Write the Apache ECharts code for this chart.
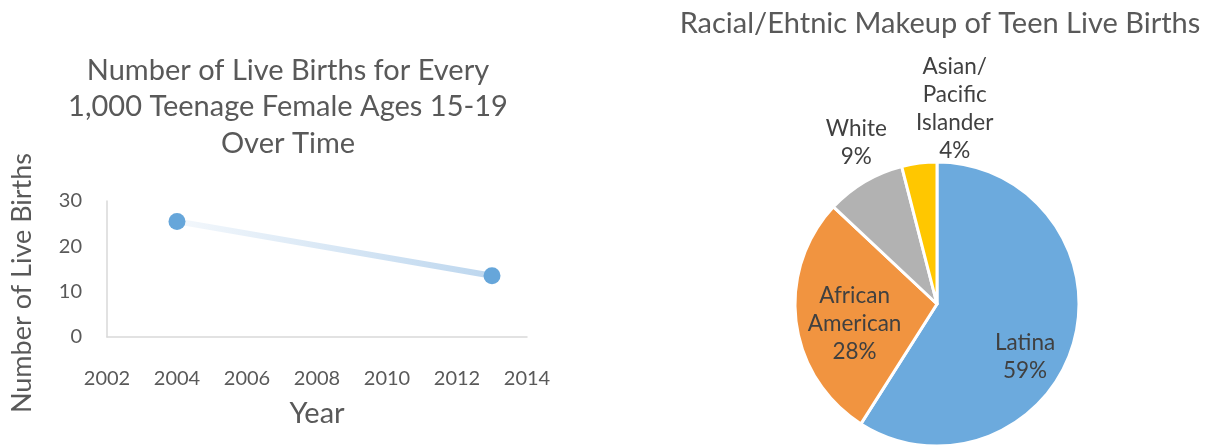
<!DOCTYPE html>
<html>
<head>
<meta charset="utf-8">
<script src="https://cdn.jsdelivr.net/npm/echarts@6/dist/echarts.min.js"></script>
<style>
  html, body { margin: 0; padding: 0; background: #fff; }
  #chart { width: 1206px; height: 445px; }
</style>
</head>
<body>
<div id="chart"></div>
<script>
// Teen birth rate per 1,000 females aged 15-19
const years = [2004, 2013];
const birthRates = [25.5, 13.5];

// Racial/ethnic makeup of teen live births (percent)
const groups = ['Latina', 'African\nAmerican', 'White', 'Asian/\nPacific\nIslander'];
const shares = [59, 28, 9, 4];

const FONT = 'Lato, "Open Sans", sans-serif';
const TEXT = '#595959';
const sliceColors = ['#6CAADD', '#F19440', '#B2B2B2', '#FFC700'];
// label nudges (px) for each slice, in group order
const labelNudge = [[17, 32], [-9, 10], [-43, -98], [27, -122]];

const chart = echarts.init(document.getElementById('chart'), null, { renderer: 'canvas' });

chart.setOption({
  backgroundColor: '#ffffff',
  animation: false,
  title: [
    {
      text: 'Number of Live Births for Every\n1,000 Teenage Female Ages 15-19\nOver Time',
      left: 283, top: 47, textAlign: 'center',
      textStyle: { fontFamily: FONT, fontSize: 29, fontWeight: 'normal', color: TEXT, lineHeight: 36.5 }
    },
    {
      text: 'Racial/Ehtnic Makeup of Teen Live Births',
      left: 935, top: 4, textAlign: 'center',
      textStyle: { fontFamily: FONT, fontSize: 29, fontWeight: 'normal', color: TEXT }
    }
  ],
  grid: { left: 107, top: 201, width: 420, height: 136 },
  xAxis: {
    type: 'value', min: 2002, max: 2014, interval: 2,
    name: 'Year', nameLocation: 'middle', nameGap: 62,
    nameTextStyle: { fontFamily: FONT, fontSize: 29, color: TEXT },
    axisLine: { show: true, lineStyle: { color: '#D9D9D9', width: 1.5 } },
    axisTick: { show: false },
    splitLine: { show: false },
    axisLabel: { fontFamily: FONT, fontSize: 20, color: TEXT, margin: 32, formatter: v => String(v) }
  },
  yAxis: {
    type: 'value', min: 0, max: 30, interval: 10,
    name: 'Number of Live Births', nameLocation: 'middle', nameGap: 71, nameRotate: 90,
    nameTextStyle: { fontFamily: FONT, fontSize: 27, color: TEXT, padding: [0, 28, 0, 0] },
    axisLine: { show: true, lineStyle: { color: '#D9D9D9', width: 1.5 } },
    axisTick: { show: false },
    splitLine: { show: false },
    axisLabel: { fontFamily: FONT, fontSize: 20, color: TEXT, margin: 25, padding: [6, 0, 0, 0] }
  },
  series: [
    {
      type: 'line',
      data: years.map((y, i) => [y, birthRates[i]]),
      symbol: 'circle', symbolSize: 17,
      itemStyle: { color: '#66A6DA' },
      lineStyle: {
        width: 6,
        color: {
          type: 'linear', x: 0, y: 0, x2: 1, y2: 0,
          colorStops: [{ offset: 0, color: '#F4F8FC' }, { offset: 1, color: '#BCD6EE' }]
        }
      },
      z: 3
    },
    {
      type: 'pie',
      center: [937, 304],
      radius: 142,
      startAngle: 90,
      clockwise: true,
      avoidLabelOverlap: false,
      itemStyle: { borderColor: '#ffffff', borderWidth: 3 },
      label: {
        show: true, position: 'inside',
        formatter: p => p.name + '\n' + p.value + '%',
        fontFamily: FONT, fontSize: 22.5, lineHeight: 28, color: '#404040'
      },
      labelLine: { show: false },
      labelLayout: p => ({ dx: labelNudge[p.dataIndex][0], dy: labelNudge[p.dataIndex][1] }),
      emphasis: { disabled: true },
      data: groups.map((g, i) => ({ name: g, value: shares[i], itemStyle: { color: sliceColors[i] } }))
    }
  ]
});
</script>
</body>
</html>
